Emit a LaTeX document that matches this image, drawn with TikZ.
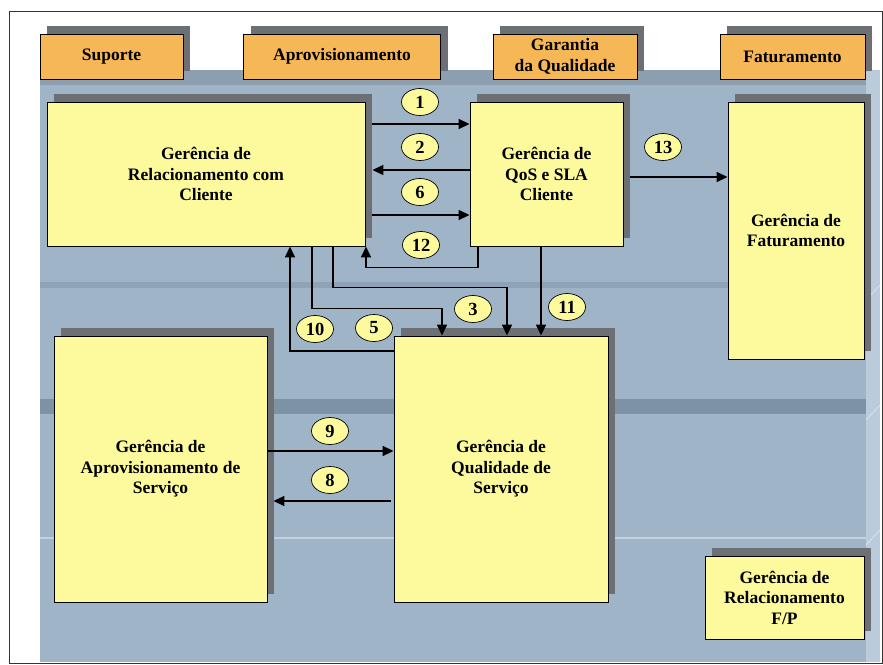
\documentclass[tikz,border=0pt]{standalone}
\usepackage{fontspec}
\setmainfont{Liberation Serif}
\usetikzlibrary{arrows.meta,shadows,calc,shapes.geometric}
\definecolor{bgblue}{HTML}{A0B4C8}
\definecolor{topstrip}{HTML}{8C9EB0}
\definecolor{sidestrip}{HTML}{BACBDB}
\definecolor{bandA}{HTML}{8FA3B6}
\definecolor{bandB}{HTML}{7E92A5}
\definecolor{lightline}{HTML}{C3D1DD}
\definecolor{boxyellow}{HTML}{FDFA9E}
\definecolor{taborange}{HTML}{F6B757}
\definecolor{shadowgray}{HTML}{6C7075}
\begin{document}
\begin{tikzpicture}[x=1pt,y=-1pt,
  txt/.style={font=\fontsize{17.5}{20.5}\selectfont\bfseries, align=center},
  sh/.style={general shadow={fill=shadowgray, shadow xshift=7pt, shadow yshift=8pt}},
  tabbox/.style={txt, sh, draw=black, line width=0.9pt, fill=taborange, minimum height=45pt, inner sep=0pt},
  ybox/.style={txt, sh, draw=black, line width=0.9pt, fill=boxyellow, inner sep=0pt},
  num/.style={ellipse, draw=black, line width=0.7pt, fill=boxyellow, minimum width=37pt, minimum height=27pt, inner sep=0pt, font=\fontsize{18.5}{19}\selectfont\bfseries},
  conn/.style={line width=1.6pt, -{Triangle[length=11pt,width=10pt]}}]
\useasboundingbox (0,0) rectangle (883,664);
% frame
\draw[black!80, line width=0.8pt] (9,11) rectangle (882,663);
% background slab
\fill[bgblue] (40,70) rectangle (866,662);
\fill[topstrip] (40,70) rectangle (866,85);
\fill[sidestrip] (866,70) rectangle (880,662);
\fill[bandA] (40,282) rectangle (866,288);
\fill[bandB] (40,399) rectangle (866,414);
\fill[lightline] (40,536.5) rectangle (866,539);
\draw[white!70!bgblue, line width=0.6pt] (866,300) -- (880,285) (866,420) -- (880,405) (866,545) -- (880,530);

% tabs
\node[tabbox, minimum width=143pt] (tsup) at (111.5,56.5) {Suporte};
\node[tabbox, minimum width=197pt] (tapr) at (342,56.5) {Aprovisionamento};
\node[tabbox, minimum width=144pt] (tgar) at (565,56.5) {Garantia\\da Qualidade};
\node[tabbox, minimum width=145pt] (tfat) at (792.5,56.5) {Faturamento};

% boxes
\node[ybox, minimum width=318pt, minimum height=144pt] (grc) at (206,174) {Gerência de\\Relacionamento com\\Cliente};
\node[ybox, minimum width=153pt, minimum height=144pt] (qos) at (546.5,174) {Gerência de\\QoS e SLA\\Cliente};
\node[ybox, minimum width=136pt, minimum height=257pt] (fat) at (796,230.5) {Gerência de\\Faturamento};
\node[ybox, minimum width=213pt, minimum height=266pt] (aps) at (160.5,469) {Gerência de\\Aprovisionamento de\\Serviço};
\node[ybox, minimum width=214pt, minimum height=266pt] (qsr) at (501,469) {Gerência de\\Qualidade de\\Serviço};
\node[ybox, minimum width=159pt, minimum height=83pt] (frp) at (784.5,597.5) {Gerência de\\Relacionamento\\F/P};

% connectors
\draw[conn] ($(grc.east |- 0,124)+(7,0)$) -- (qos.west |- 0,124);
\draw[conn] (qos.west |- 0,170) -- ($(grc.east |- 0,170)+(7,0)$);
\draw[conn] ($(grc.east |- 0,215)+(7,0)$) -- (qos.west |- 0,215);
\draw[conn] (qos.south -| 478,0) -- ++(0,21) -| (grc.south -| 366,0);
\draw[conn] (grc.south -| 333,0) -- ++(0,41) -| (qsr.north -| 507,0);
\draw[conn] (grc.south -| 312,0) -- ++(0,62) -| (qsr.north -| 442,0);
\draw[conn] (qsr.west |- 0,351) -| (grc.south -| 290,0);
\draw[conn] (qos.south -| 541,0) -- (qsr.north -| 541,0);
\draw[conn] ($(qos.east |- 0,177)+(7,0)$) -- (fat.west |- 0,177);
\draw[conn] (aps.east |- 0,451) -- (qsr.west |- 0,451);
\draw[conn] ($(qsr.west |- 0,501)+(-3,0)$) -- ($(aps.east |- 0,501)+(6,0)$);

% labels
\node[num] (l1) at (420,102) {1};
\node[num] (l2) at (420,147) {2};
\node[num] (l6) at (420,192) {6};
\node[num] (l12) at (421,245) {12};
\node[num] (l13) at (663,147) {13};
\node[num] (l3) at (473,309) {3};
\node[num] (l5) at (374,328) {5};
\node[num] (l10) at (315,329) {10};
\node[num] (l11) at (567,307) {11};
\node[num] (l9) at (330,431) {9};
\node[num] (l8) at (330,480) {8};
\end{tikzpicture}
\end{document}
